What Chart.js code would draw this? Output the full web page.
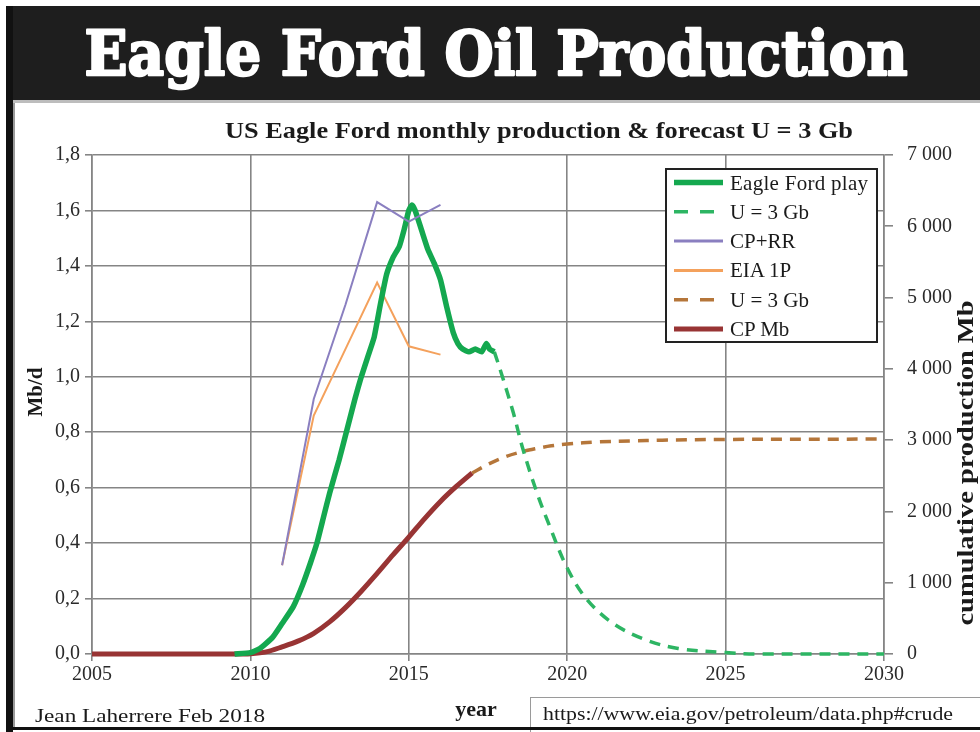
<!DOCTYPE html>
<html>
<head>
<meta charset="utf-8">
<script src="https://cdn.jsdelivr.net/npm/chart.js@4.4.1/dist/chart.umd.min.js"></script>
<style>
  html, body { margin:0; padding:0; background:#fff; }
  #wrap { position:relative; width:980px; height:732px; overflow:hidden; }
  #c { position:absolute; left:0; top:0; }
  #ov { position:absolute; left:0; top:0; pointer-events:none; }
</style>
</head>
<body>
<div id="wrap">
  <canvas id="c" width="980" height="732"></canvas>
  <svg id="ov" width="980" height="732" xmlns="http://www.w3.org/2000/svg"></svg>
</div>
<script>
// ---------- DATA ----------
// Eagle Ford play, monthly production, Mb/d (left axis)
const efYears = [2009.5, 2010.0, 2010.3, 2010.7, 2011.0, 2011.35, 2011.65, 2011.9, 2012.1, 2012.3, 2012.5, 2012.8, 2013.05, 2013.3, 2013.5, 2013.7, 2013.9, 2014.1, 2014.3, 2014.5, 2014.7, 2014.85, 2015.0, 2015.1, 2015.2, 2015.4, 2015.6, 2015.8, 2016.0, 2016.2, 2016.4, 2016.55, 2016.7, 2016.9, 2017.1, 2017.3, 2017.45, 2017.55, 2017.7];
const efValues = [0, 0.005, 0.02, 0.06, 0.11, 0.17, 0.25, 0.33, 0.40, 0.49, 0.58, 0.70, 0.81, 0.92, 1.00, 1.07, 1.14, 1.26, 1.37, 1.43, 1.47, 1.53, 1.60, 1.62, 1.60, 1.53, 1.46, 1.41, 1.35, 1.25, 1.16, 1.12, 1.10, 1.09, 1.10, 1.09, 1.12, 1.10, 1.09];
// Forecast U = 3 Gb, Mb/d (left axis)
const efFcYears = [2017.7, 2017.9, 2018.3, 2018.6, 2019.05, 2019.45, 2020.0, 2020.6, 2021.45, 2022.5, 2023.5, 2025.0, 2026.0, 2030.0];
const efFcValues = [1.09, 1.02, 0.87, 0.74, 0.58, 0.46, 0.31, 0.20, 0.11, 0.05, 0.02, 0.005, 0, 0];
// CP+RR, Mb/d (left axis)
const cprrYears = [2011, 2012, 2013, 2014, 2015, 2016];
const cprrValues = [0.32, 0.92, 1.26, 1.63, 1.56, 1.62];
// EIA 1P, Mb/d (left axis)
const eiaYears = [2011, 2012, 2013, 2014, 2015, 2016];
const eiaValues = [0.32, 0.86, 1.10, 1.34, 1.11, 1.08];
// Cumulative production, Mb (right axis)
const cumYears = [2005, 2009.5, 2010.0, 2010.5, 2011.0, 2011.5, 2012.0, 2012.5, 2013.0, 2013.5, 2014.0, 2014.5, 2015.0, 2015.5, 2016.0, 2016.5, 2017.0];
const cumValues = [0, 0, 5, 30, 100, 180, 290, 450, 650, 880, 1130, 1390, 1640, 1900, 2140, 2350, 2540];
// Cumulative forecast U = 3 Gb, Mb (right axis)
const cumFcYears = [2017.0, 2017.5, 2018.0, 2018.5, 2019.0, 2019.5, 2020.0, 2021.0, 2022.0, 2023.0, 2025.0, 2030.0];
const cumFcValues = [2540, 2660, 2760, 2830, 2880, 2920, 2945, 2975, 2990, 3000, 3010, 3015];

const seriesNames = ['Eagle Ford play', 'U = 3 Gb', 'CP+RR', 'EIA 1P', 'U = 3 Gb', 'CP Mb'];
const xRange = [2005, 2030];
const yRange = [0, 1.8];
const y1Range = [0, 7000];

// ---------- CHART ----------
function pts(xs, ys) { return xs.map((x, i) => ({ x: x, y: ys[i] })); }

const GRID = '#858585';
const FONT = 'Liberation Serif, Times New Roman, serif';

const datasets = [
  { label: seriesNames[0], data: pts(efYears, efValues), yAxisID: 'y', borderColor: '#14a84f', borderWidth: 5.5, tension: 0.15, order: 1, legendW: 5.5 },
  { label: seriesNames[1], data: pts(efFcYears, efFcValues), yAxisID: 'y', borderColor: '#2db563', borderWidth: 3.5, borderDash: [11, 8], tension: 0.35, order: 2, legendW: 3.5, legendDash: '14 12' },
  { label: seriesNames[2], data: pts(cprrYears, cprrValues), yAxisID: 'y', borderColor: '#8a7fc0', borderWidth: 2, tension: 0, order: 0, legendW: 3 },
  { label: seriesNames[3], data: pts(eiaYears, eiaValues), yAxisID: 'y', borderColor: '#f4a15c', borderWidth: 2, tension: 0, order: 3, legendW: 3 },
  { label: seriesNames[4], data: pts(cumFcYears, cumFcValues), yAxisID: 'y1', borderColor: '#b5763a', borderWidth: 3.5, borderDash: [11, 8], tension: 0.35, order: 4, legendW: 3.5, legendDash: '14 12' },
  { label: seriesNames[5], data: pts(cumYears, cumValues), yAxisID: 'y1', borderColor: '#983434', borderWidth: 5, tension: 0.3, order: 5, legendW: 5 }
];
datasets.forEach(d => { d.pointRadius = 0; d.fill = false; d.clip = false; d.backgroundColor = d.borderColor; });

const chart = new Chart(document.getElementById('c'), {
  type: 'line',
  data: { datasets: datasets },
  options: {
    responsive: false,
    animation: false,
    devicePixelRatio: 1,
    layout: { padding: { top: 155, left: 0, right: 0, bottom: 0 } },
    plugins: { legend: { display: false }, tooltip: { enabled: false }, title: { display: false } },
    scales: {
      x: {
        type: 'linear', min: xRange[0], max: xRange[1],
        ticks: { stepSize: 5, padding: 2, color: '#2a2a2a', font: { family: FONT, size: 20 }, callback: v => String(v), maxRotation: 0 },
        grid: { color: GRID, lineWidth: 1.6, tickLength: 7, tickColor: GRID },
        border: { color: GRID, width: 1.6 },
        afterFit: s => { s.height = 78; }
      },
      y: {
        position: 'left', min: yRange[0], max: yRange[1],
        ticks: { stepSize: 0.2, padding: 5, color: '#2a2a2a', font: { family: FONT, size: 20 }, callback: v => (Math.round(v * 10) / 10).toFixed(1).replace('.', ',') },
        grid: { color: GRID, lineWidth: 1.6, tickLength: 7, tickColor: GRID },
        border: { color: GRID, width: 1.6 },
        afterFit: s => { s.width = 92; }
      },
      y1: {
        position: 'right', min: y1Range[0], max: y1Range[1],
        ticks: { stepSize: 1000, padding: 14, color: '#2a2a2a', font: { family: FONT, size: 20 }, callback: v => v === 0 ? '0' : String(Math.round(v)).replace(/\B(?=(\d{3})+(?!\d))/g, ' ') },
        grid: { drawOnChartArea: false, color: GRID, lineWidth: 1.6, tickLength: 9, tickColor: GRID },
        border: { color: GRID, width: 1.6 },
        afterFit: s => { s.width = 96; }
      }
    }
  }
});

// ---------- OVERLAY: frame, titles, legend, footer ----------
const NS = 'http://www.w3.org/2000/svg';
const ov = document.getElementById('ov');
function el(tag, attrs, text) {
  const e = document.createElementNS(NS, tag);
  for (const k in attrs) e.setAttribute(k, attrs[k]);
  if (text !== undefined) e.textContent = text;
  ov.appendChild(e);
  return e;
}
// frame
el('rect', { x: 6, y: 6, width: 974, height: 94, fill: '#1e1e1e' });
el('rect', { x: 13, y: 100, width: 967, height: 3, fill: '#bdbdbd' });
el('rect', { x: 6, y: 6, width: 7, height: 726, fill: '#111' });
el('rect', { x: 13, y: 103, width: 2, height: 624, fill: '#9a9a9a' });
// header title
el('text', { x: 496, y: 75, 'text-anchor': 'middle', fill: '#fff', stroke: '#fff', 'stroke-width': 2.5, 'stroke-linejoin': 'round', 'font-family': 'DejaVu Serif', 'font-weight': 'bold', 'font-size': 62, textLength: 823, lengthAdjust: 'spacingAndGlyphs' }, 'Eagle Ford Oil Production');
// chart title
el('text', { x: 539, y: 138, 'text-anchor': 'middle', fill: '#1a1a1a', 'font-family': FONT, 'font-weight': 'bold', 'font-size': 24, textLength: 628, lengthAdjust: 'spacingAndGlyphs' }, 'US Eagle Ford monthly production & forecast U = 3 Gb');
// axis titles
el('text', { transform: 'translate(42,392) rotate(-90)', x: 0, y: 0, 'text-anchor': 'middle', fill: '#1a1a1a', 'font-family': FONT, 'font-weight': 'bold', 'font-size': 21 }, 'Mb/d');
el('text', { transform: 'translate(973,463) rotate(-90)', x: 0, y: 0, 'text-anchor': 'middle', fill: '#1a1a1a', 'font-family': FONT, 'font-weight': 'bold', 'font-size': 24, textLength: 325, lengthAdjust: 'spacingAndGlyphs' }, 'cumulative production Mb');
el('text', { x: 476, y: 716, 'text-anchor': 'middle', fill: '#1a1a1a', 'font-family': FONT, 'font-weight': 'bold', 'font-size': 22 }, 'year');
// footer
el('text', { x: 35, y: 722, fill: '#1a1a1a', 'font-family': FONT, 'font-size': 19, textLength: 230, lengthAdjust: 'spacingAndGlyphs' }, 'Jean Laherrere Feb 2018');
el('rect', { x: 530.5, y: 697.5, width: 460, height: 40, fill: '#fff', stroke: '#9a9a9a', 'stroke-width': 1 });
el('text', { x: 543, y: 720, fill: '#1a1a1a', 'font-family': FONT, 'font-size': 18, textLength: 410, lengthAdjust: 'spacingAndGlyphs' }, 'https://www.eia.gov/petroleum/data.php#crude');
el('rect', { x: 6, y: 727, width: 974, height: 3, fill: '#111' });
// legend
el('rect', { x: 666, y: 169, width: 211, height: 173, fill: '#fff', stroke: '#222', 'stroke-width': 2 });
chart.data.datasets.forEach((d, i) => {
  const yy = 182.5 + i * 29.3;
  const a = { x1: 674, x2: 723, y1: yy, y2: yy, stroke: d.borderColor, 'stroke-width': d.legendW };
  if (d.legendDash) a['stroke-dasharray'] = d.legendDash;
  el('line', a);
  el('text', { x: 730, y: yy + 7, fill: '#1a1a1a', 'font-family': FONT, 'font-size': 21, textLength: d.label === 'Eagle Ford play' ? 138 : undefined }, d.label);
});
</script>
</body>
</html>
